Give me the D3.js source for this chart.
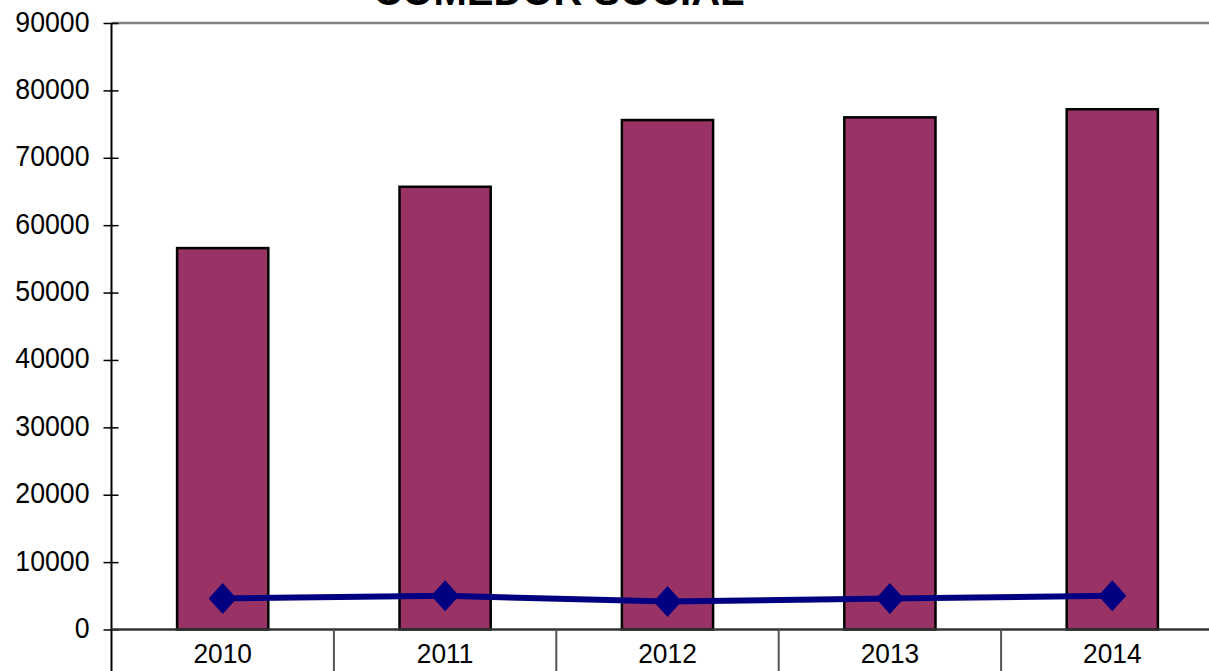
<!DOCTYPE html>
<html><head><meta charset="utf-8">
<script src="https://cdn.jsdelivr.net/npm/d3@7"></script>
<style>body{margin:0;background:#fff;overflow:hidden}svg{display:block}text{font-family:"Liberation Sans",Arial,sans-serif}</style>
</head><body>
<svg id="c" width="1209" height="671"></svg>
<script>
const title = "COMEDOR SOCIAL";
const years = ["2010","2011","2012","2013","2014"];
const barValues = [56600, 65700, 75600, 76000, 77200];
const lineValues = [4600, 5000, 4150, 4600, 5000];
const yTicks = [0,10000,20000,30000,40000,50000,60000,70000,80000,90000];

(function(){
const svg = d3.select("#c");
const pL = 111.5, pR = 1223.5, pT = 23, pB = 629.5;
const x = d3.scaleBand().domain(years).range([pL, pR]).paddingInner(0).paddingOuter(0);
const y = d3.scaleLinear().domain([0, 90000]).range([pB, pT]);

// title
svg.append("text").attr("x", 559).attr("y", 5).attr("text-anchor","middle")
  .attr("font-size", 40).attr("font-weight","bold").attr("fill","#000").text(title);

// top border
svg.append("line").attr("x1", pL).attr("x2", pR).attr("y1", pT).attr("y2", pT)
  .attr("stroke","#808080").attr("stroke-width",2.5);

// bars
const bw = x.bandwidth()*0.41;
svg.selectAll("rect.bar").data(years).enter().append("rect")
  .attr("x", d => x(d) + x.bandwidth()/2 - bw/2)
  .attr("y", (d,i) => y(barValues[i]))
  .attr("width", bw)
  .attr("height", (d,i) => pB - y(barValues[i]))
  .attr("fill","#993366").attr("stroke","#000").attr("stroke-width",2.5);

// y axis
const ys = 0.89;
const yAxis = d3.axisLeft(y).tickValues(yTicks).tickSize(0).tickPadding(0).tickFormat(d3.format("d"));
const ga = svg.append("g").attr("transform",`translate(${pL},0)`).call(yAxis);
ga.select(".domain").remove();
ga.selectAll("text").attr("font-size",30).attr("fill","#000")
  .attr("transform",`scale(${ys},1)`).attr("x",-22/ys).attr("y",8).attr("dy",0)
  .style("font-family","'Liberation Sans',Arial,sans-serif");
ga.selectAll(".tick").append("line").attr("x1",-8).attr("x2",7).attr("stroke","#000").attr("stroke-width",1.5);
svg.append("line").attr("x1",pL).attr("x2",pL).attr("y1",pT).attr("y2",671)
  .attr("stroke","#000").attr("stroke-width",2);

// x axis
svg.append("line").attr("x1",pL).attr("x2",pR).attr("y1",pB).attr("y2",pB)
  .attr("stroke","#333").attr("stroke-width",2.5);
const xs = 0.94;
const xAxis = d3.axisBottom(x).tickSize(0).tickPadding(0);
const gx = svg.append("g").attr("transform",`translate(0,${pB})`).call(xAxis);
gx.select(".domain").remove();
gx.selectAll(".tick").each(function(){
  const t = d3.select(this);
  const tr = t.attr("transform");
  t.select("text").attr("font-size",28).attr("fill","#000")
    .attr("transform",`scale(${xs},1)`).attr("x",0).attr("y",34).attr("dy",0)
    .style("font-family","'Liberation Sans',Arial,sans-serif");
  // scale about the tick centre: the text sits at x=0 inside the translated tick group
});
svg.selectAll("line.sep").data(years.slice(1)).enter().append("line").attr("class","sep")
  .attr("x1", d => x(d)).attr("x2", d => x(d)).attr("y1", pB).attr("y2", 671)
  .attr("stroke","#555").attr("stroke-width",2);

// line series
const cx = d => x(d) + x.bandwidth()/2;
const line = d3.line().x((d,i) => cx(years[i])).y(d => y(d));
svg.append("path").datum(lineValues).attr("d", line).attr("fill","none")
  .attr("stroke","#000080").attr("stroke-width",6);
svg.selectAll("path.mk").data(lineValues).enter().append("path").attr("class","mk")
  .attr("transform",(d,i) => `translate(${cx(years[i])},${y(d)})`)
  .attr("d","M0,-15.5L14,0L0,15.5L-14,0Z").attr("fill","#000080");
})();
</script>
</body></html>
